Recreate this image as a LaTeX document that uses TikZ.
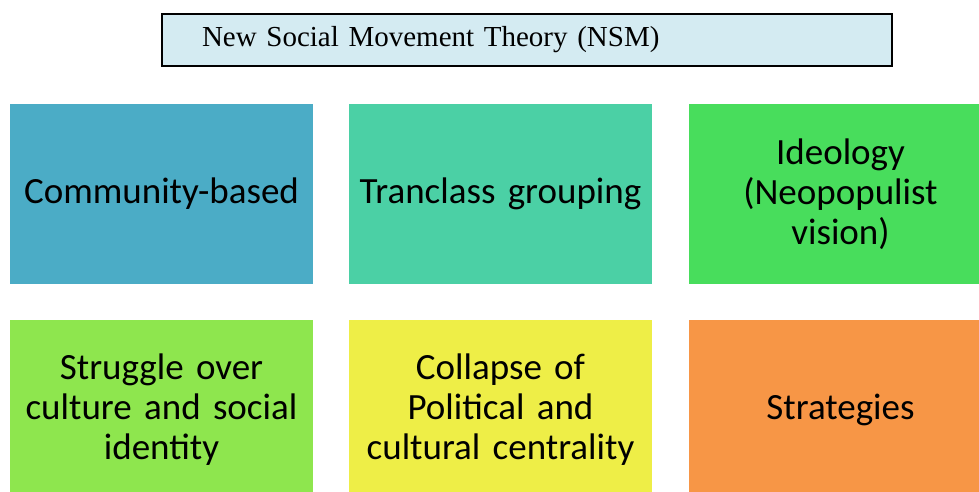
\documentclass[tikz,border=0pt]{standalone}
\usepackage{fontspec}
\setmainfont{Carlito}
\newfontfamily\titlefont{Liberation Serif}
\usetikzlibrary{positioning}
\definecolor{boxblue}{HTML}{4BACC6}
\definecolor{boxteal}{HTML}{4BD0A5}
\definecolor{boxgreen}{HTML}{48DD5C}
\definecolor{boxlime}{HTML}{8EE64E}
\definecolor{boxyellow}{HTML}{EEEE47}
\definecolor{boxorange}{HTML}{F79646}
\definecolor{titlefill}{HTML}{D4EBF2}
\tikzstyle{titlebox}=[rectangle,draw=black,line width=1.5pt,fill=titlefill,minimum width=730pt,minimum height=52pt,inner xsep=40pt,text width=650pt,align=left,font=\titlefont\fontsize{29}{32}\selectfont]
\tikzstyle{block}=[rectangle,minimum width=303pt,minimum height=180pt,inner sep=0pt,text width=298pt,align=center,font=\fontsize{37}{40}\selectfont]

\begin{document}
\begin{tikzpicture}[x=1pt,y=-1pt]
    \useasboundingbox (0,0) rectangle (979,492);
    \clip (0,0) rectangle (979,492);
    % heading
    \node[titlebox] (nsm) at (527,40) {New Social Movement Theory (NSM)};
    % the six blocks
    \foreach \pos/\name/\col/\label in {{(161.5,194)/comm/boxblue/Community-based},
    {(500.5,194)/tranclass/boxteal/Tranclass grouping},
    {(840.5,194)/ideology/boxgreen/Ideology\\(Neopopulist\\vision)},
    {(161.5,410)/struggle/boxlime/Struggle over\\culture and social\\identity},
    {(500.5,410)/collapse/boxyellow/Collapse of\\Political and\\cultural centrality},
    {(840.5,410)/strat/boxorange/Strategies}}
        \node[block, fill=\col] (\name) at \pos {\label};
\end{tikzpicture}
\end{document}
